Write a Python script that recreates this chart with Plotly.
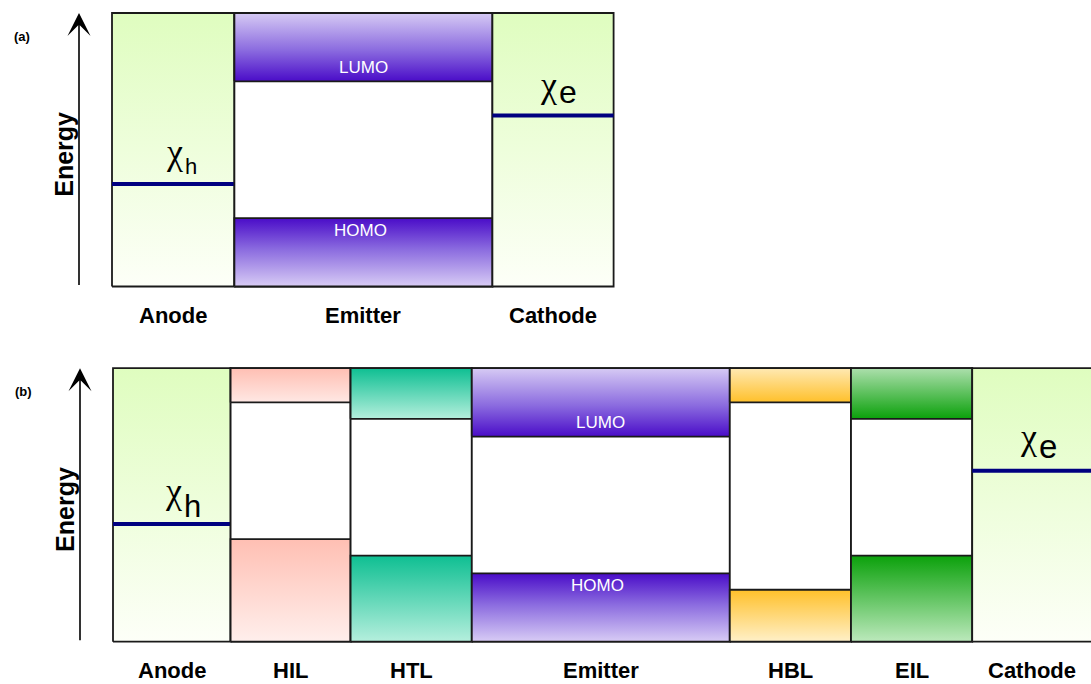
import plotly.graph_objects as go

# ---------------- data ----------------
E_TOP, E_BOTTOM = 10.0, 0.0   # energy span of the diagram (arbitrary units)

# panel (a)
A_LAYERS = ["Anode", "Emitter", "Cathode"]
A_WIDTHS = [1.02, 2.15, 1.01]
A_LUMO = [None, 7.5, None]
A_HOMO = [None, 2.5, None]
A_CHI = [3.75, None, 6.25]
A_CHI_SUB = ["h", None, "e"]

# panel (b)
B_LAYERS = ["Anode", "HIL", "HTL", "Emitter", "HBL", "EIL", "Cathode"]
B_WIDTHS = [0.98, 1.0, 1.01, 2.15, 1.01, 1.01, 1.0]
B_LUMO = [None, 8.75, 8.15, 7.5, 8.75, 8.15, None]
B_HOMO = [None, 3.75, 3.15, 2.5, 1.9, 3.15, None]
B_CHI = [4.3, None, None, None, None, None, 6.25]
B_CHI_SUB = ["h", None, None, None, None, None, "e"]

# ---------------- styles ----------------
W, H = 1091, 684
FONT = "Liberation Sans"
CHI_FONT = "Liberation Serif"
OUTLINE = "#1a1a1a"
CHI_LINE = "#000080"

ELECTRODE_CS = [[0, "#fdfff8"], [1, "#dffdbf"]]          # bottom -> top
BAND_CS = {  # (LUMO colorscale, HOMO colorscale), 0 = bottom, 1 = top
    "Emitter": ([[0, "#4a0cc8"], [0.45, "#8a6adf"], [1, "#d6caf4"]],
                [[0, "#d8ccf5"], [0.55, "#8a6adf"], [1, "#4a0cc8"]]),
    "HIL": ([[0, "#ffe8e4"], [1, "#ffbfb3"]],
            [[0, "#ffefec"], [1, "#ffbfb3"]]),
    "HTL": ([[0, "#b5efdd"], [1, "#0ebf92"]],
            [[0, "#b5efdd"], [1, "#0ebf92"]]),
    "HBL": ([[0, "#ffc02a"], [1, "#ffe9b3"]],
            [[0, "#fff0c8"], [1, "#ffc02a"]]),
    "EIL": ([[0, "#0ba10b"], [1, "#acdfac"]],
            [[0, "#bce9bc"], [1, "#0ba10b"]]),
}

# pixel anchors / text styling for the two panels
# chi_style: split x-offset from layer centre, chi (yshift, size), sub (yshift, size)
PANELS = {
    "a": dict(left=112, ppu_x=120, bottom=286.5, ppu_y=27.35, xa="x", ya="y",
              chi_style={"h": dict(split=10.3, chi=(32.3, 36), sub=(17.6, 22)),
                         "e": dict(split=5.0, chi=(30.3, 36), sub=(23.1, 32))},
              label_shift=-28.5, tag="(a)"),
    "b": dict(left=113, ppu_x=120, bottom=641.7, ppu_y=27.35, xa="x2", ya="y2",
              chi_style={"h": dict(split=10.7, chi=(32.8, 36), sub=(17.1, 31)),
                         "e": dict(split=5.8, chi=(33.8, 36), sub=(24.3, 33))},
              label_shift=-28.3, tag="(b)"),
}

fig = go.Figure()
annotations = []


def rect(x0, x1, y0, y1, xa, ya, cs=None, fillcolor=None, lw=1.8):
    kw = dict(x=[x0, x1, x1, x0, x0], y=[y0, y0, y1, y1, y0], mode="lines",
              line=dict(color=OUTLINE, width=lw), hoverinfo="skip",
              showlegend=False, xaxis=xa, yaxis=ya, fill="toself")
    if cs is not None:
        kw["fillgradient"] = dict(type="vertical", colorscale=cs)
    else:
        kw["fillcolor"] = fillcolor or "rgba(0,0,0,0)"
    fig.add_trace(go.Scatter(**kw))


def build(layers, widths, lumo, homo, chi, chi_sub, p):
    xa, ya = p["xa"], p["ya"]
    xr = "x" if xa == "x" else "x2"
    yr = "y" if ya == "y" else "y2"
    x = 0.0
    for name, w, lu, ho, c, cs_sub in zip(layers, widths, lumo, homo, chi, chi_sub):
        x0, x1 = x, x + w
        xc = (x0 + x1) / 2
        if lu is None:  # electrode
            rect(x0, x1, E_BOTTOM, E_TOP, xa, ya, cs=ELECTRODE_CS)
        else:
            rect(x0, x1, E_BOTTOM, E_TOP, xa, ya, fillcolor="white")
            lcs, hcs = BAND_CS[name]
            rect(x0, x1, lu, E_TOP, xa, ya, cs=lcs)
            rect(x0, x1, E_BOTTOM, ho, xa, ya, cs=hcs)
            if name == "Emitter":
                annotations.append(dict(x=xc, y=lu, xref=xr, yref=yr, text="LUMO",
                                        showarrow=False, yanchor="middle", yshift=14,
                                        font=dict(family=FONT, size=17, color="white")))
                annotations.append(dict(x=xc, y=ho, xref=xr, yref=yr, text="HOMO",
                                        showarrow=False, yanchor="middle", yshift=-12.5,
                                        xshift=-3,
                                        font=dict(family=FONT, size=17, color="white")))
        if c is not None:
            fig.add_trace(go.Scatter(x=[x0, x1], y=[c, c], mode="lines",
                                     line=dict(color=CHI_LINE, width=4),
                                     hoverinfo="skip", showlegend=False,
                                     xaxis=xa, yaxis=ya))
            st = p["chi_style"][cs_sub]
            annotations.append(dict(x=xc, y=c, xref=xr, yref=yr, text="χ",
                                    showarrow=False, xshift=st["split"],
                                    xanchor="right", borderpad=0,
                                    yshift=st["chi"][0], yanchor="middle",
                                    font=dict(family=CHI_FONT, size=st["chi"][1],
                                              color="black")))
            annotations.append(dict(x=xc, y=c, xref=xr, yref=yr, text=cs_sub,
                                    showarrow=False, xshift=st["split"],
                                    xanchor="left", borderpad=0,
                                    yshift=st["sub"][0], yanchor="middle",
                                    font=dict(family=FONT, size=st["sub"][1],
                                              color="black")))
        annotations.append(dict(x=xc, y=E_BOTTOM, xref=xr, yref=yr,
                                text="<b>%s</b>" % name, showarrow=False,
                                yanchor="middle", yshift=p["label_shift"],
                                borderpad=0,
                                font=dict(family=FONT, size=22, color="black")))
        x = x1

    # energy axis arrow (33 px left of the first layer)
    xarrow = -33.0 / p["ppu_x"]
    annotations.append(dict(x=xarrow, y=E_TOP, ax=xarrow, ay=E_BOTTOM,
                            xref=xr, yref=yr, axref=xr, ayref=yr, text="",
                            showarrow=True, arrowhead=3, arrowsize=2.4,
                            arrowwidth=1.6, arrowcolor="black", standoff=0))
    annotations.append(dict(x=xarrow, y=(E_TOP + E_BOTTOM) / 2, xref=xr, yref=yr,
                            text="<b>Energy</b>", textangle=-90, showarrow=False,
                            xshift=-15, yshift=-5,
                            font=dict(family=FONT, size=25, color="black")))
    annotations.append(dict(x=xarrow, y=E_TOP, xref=xr, yref=yr,
                            text="<b>%s</b>" % p["tag"], showarrow=False,
                            xshift=-57, yshift=-23,
                            font=dict(family=FONT, size=13, color="black")))


build(A_LAYERS, A_WIDTHS, A_LUMO, A_HOMO, A_CHI, A_CHI_SUB, PANELS["a"])
build(B_LAYERS, B_WIDTHS, B_LUMO, B_HOMO, B_CHI, B_CHI_SUB, PANELS["b"])


def xrange(p):
    return [-p["left"] / p["ppu_x"], (W - p["left"]) / p["ppu_x"]]


def yrange(p):
    return [(p["bottom"] - H) / p["ppu_y"], p["bottom"] / p["ppu_y"]]


ax_common = dict(visible=False, fixedrange=True, domain=[0, 1])
fig.update_layout(
    width=W, height=H, margin=dict(l=0, r=0, t=0, b=0),
    paper_bgcolor="white", plot_bgcolor="rgba(0,0,0,0)",
    xaxis=dict(range=xrange(PANELS["a"]), anchor="y", **ax_common),
    yaxis=dict(range=yrange(PANELS["a"]), anchor="x", **ax_common),
    xaxis2=dict(range=xrange(PANELS["b"]), anchor="y2", **ax_common),
    yaxis2=dict(range=yrange(PANELS["b"]), anchor="x2", **ax_common),
    annotations=annotations,
    showlegend=False,
)

fig.write_html("out.html")
